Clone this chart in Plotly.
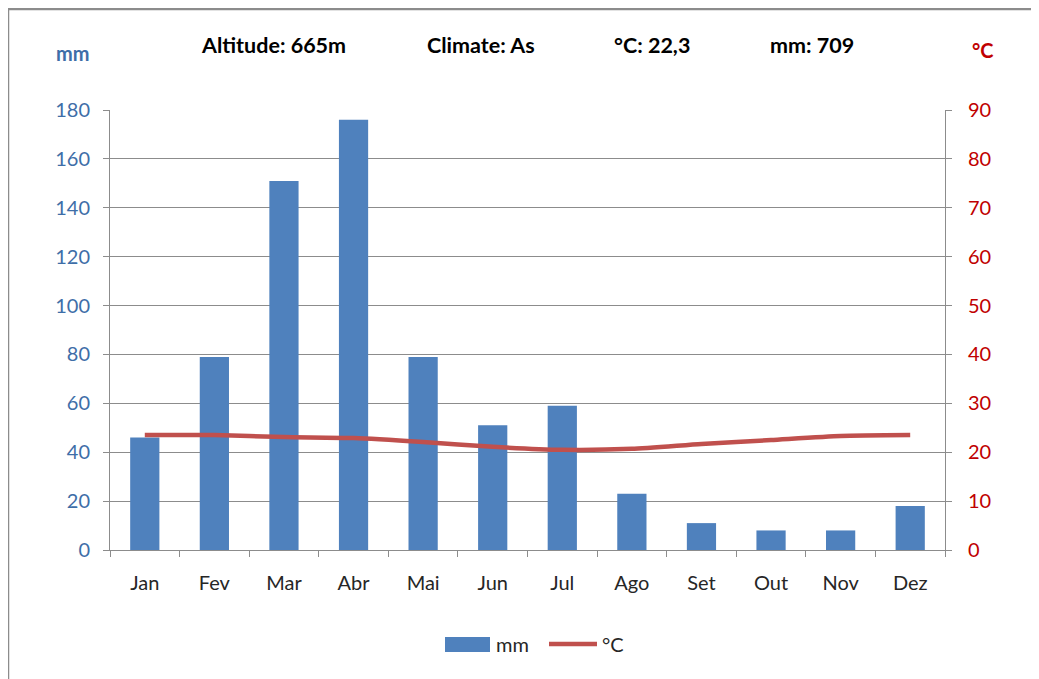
import plotly.graph_objects as go

months = ["Jan", "Fev", "Mar", "Abr", "Mai", "Jun", "Jul", "Ago", "Set", "Out", "Nov", "Dez"]
precip_mm = [46, 79, 151, 176, 79, 51, 59, 23, 11, 8, 8, 18]
temp_c = [23.5, 23.5, 23.1, 22.9, 22.1, 21.1, 20.5, 20.7, 21.7, 22.5, 23.3, 23.5]
header = ["Altitude: 665m", "Climate: As", "°C: 22,3", "mm: 709"]

FONT = "Lato, 'Open Sans', sans-serif"
BLUE = "#4F81BD"
RED = "#C0504D"
AXBLUE = "#3E6EA8"
AXRED = "#C00000"
GRID = "#8C8C8C"
TXT = "#262626"

# page has an 8px body margin; work in figure coordinates
OFF = 8
W, H = 1039 - OFF, 679 - OFF
L, T = 110 - OFF, 110 - OFF
R = W - (945 - OFF)
B = H - (550 - OFF)
PW, PH = W - L - R, H - T - B

fig = go.Figure()
fig.add_trace(go.Bar(x=months, y=precip_mm, name="mm", marker_color=BLUE,
                     marker_line_width=0, width=0.42, yaxis="y"))
fig.add_trace(go.Scatter(x=months, y=temp_c, name="°C", mode="lines",
                         line=dict(color=RED, width=4.5, shape="spline", smoothing=0.6),
                         yaxis="y2"))

fig.update_layout(
    width=W, height=H,
    margin=dict(l=L, r=R, t=T, b=B),
    paper_bgcolor="white", plot_bgcolor="white",
    font=dict(family=FONT, size=20, color=TXT),
    showlegend=False,
    xaxis=dict(type="category", showgrid=False, showline=True, linecolor=GRID, linewidth=1,
               ticks="outside", tickson="boundaries", ticklen=6, tickcolor=GRID,
               ticklabelstandoff=15,
               tickfont=dict(size=20, color=TXT)),
    yaxis=dict(range=[0, 180], dtick=20, showgrid=True, gridcolor=GRID, gridwidth=1,
               showline=True, linecolor=GRID, ticks="outside", ticklen=6, tickcolor=GRID,
               ticklabelstandoff=9,
               tickfont=dict(size=20, color=AXBLUE), zeroline=False),
    yaxis2=dict(range=[0, 90], dtick=10, overlaying="y", side="right", showgrid=False,
                showline=True, linecolor=GRID, ticks="outside", ticklen=6, tickcolor=GRID,
                ticklabelstandoff=12,
                tickfont=dict(size=20, color=AXRED), zeroline=False),
)

def px_x(p):
    return (p - OFF - L) / PW

def px_y(p):
    return (H - B - (p - OFF)) / PH

# frame border (top and left edges only)
fig.add_shape(type="line", xref="paper", yref="paper",
              x0=px_x(8), x1=px_x(1045), y0=px_y(9), y1=px_y(9),
              line=dict(color="#8C8C8C", width=2.5), layer="below")
fig.add_shape(type="line", xref="paper", yref="paper",
              x0=px_x(8), x1=px_x(8), y0=px_y(9), y1=px_y(720),
              line=dict(color="#8C8C8C", width=2.5), layer="below")

def note(txt, x, y, size, color, xanchor="center"):
    fig.add_annotation(x=px_x(x), y=px_y(y), xref="paper", yref="paper", text=txt,
                       showarrow=False, xanchor=xanchor, yanchor="middle",
                       font=dict(size=size, color=color))

note("<b>mm</b>", 73, 53, 20, AXBLUE)
note("<b>°C</b>", 983, 50, 20, AXRED)
for txt, cx in zip(header, [273, 481, 652, 812]):
    note("<b>" + txt + "</b>", cx, 45, 21.5, "#000000")

# manual legend
fig.add_shape(type="rect", xref="paper", yref="paper",
              x0=px_x(445), x1=px_x(490), y0=px_y(652), y1=px_y(637),
              line_width=0, fillcolor=BLUE)
note("mm", 494, 644, 20, TXT, xanchor="left")
fig.add_shape(type="line", xref="paper", yref="paper",
              x0=px_x(549), x1=px_x(597), y0=px_y(644), y1=px_y(644),
              line=dict(color=RED, width=4.5))
note("°C", 600, 644, 20, TXT, xanchor="left")

fig.write_html("out.html")
